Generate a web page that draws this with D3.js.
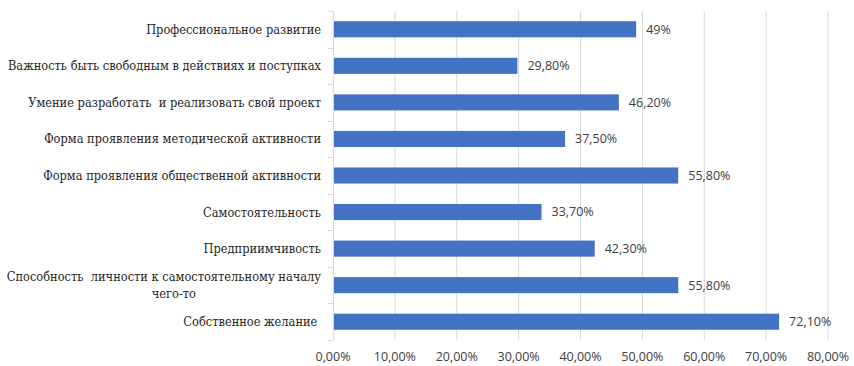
<!DOCTYPE html>
<html>
<head>
<meta charset="utf-8">
<script src="https://cdn.jsdelivr.net/npm/d3@7"></script>
<style>
  html, body { margin: 0; padding: 0; background: #fff; }
  svg { display: block; }
  .cat { font-family: "DejaVu Serif", serif; font-stretch: condensed; font-size: 12.7px; fill: #262626; }
  .num { font-family: "Open Sans", sans-serif; font-size: 12.5px; fill: #404040; }
</style>
</head>
<body>
<div id="chart"></div>
<script>
// categories top -> bottom, as drawn
const categories = [
  "Профессиональное развитие",
  "Важность быть свободным в действиях и поступках",
  "Умение разработать  и реализовать свой проект",
  "Форма проявления методической активности",
  "Форма проявления общественной активности",
  "Самостоятельность",
  "Предприимчивость",
  "Способность  личности к самостоятельному началу|чего-то",
  "Собственное желание "
];
const values = [49, 29.8, 46.2, 37.5, 55.8, 33.7, 42.3, 55.8, 72.1];
const valueLabels = ["49%", "29,80%", "46,20%", "37,50%", "55,80%", "33,70%", "42,30%", "55,80%", "72,10%"];
const xTicks = [0, 10, 20, 30, 40, 50, 60, 70, 80];

const width = 854, height = 366;
const margin = { top: 11, right: 26, bottom: 26, left: 333 };

const svg = d3.select("#chart").append("svg")
  .attr("width", width)
  .attr("height", height);

const x = d3.scaleLinear().domain([0, 80]).range([margin.left, width - margin.right]);
const y = d3.scaleBand().domain(categories).range([margin.top, height - margin.bottom])
  .paddingInner(0.56).paddingOuter(0.28);

// vertical gridlines
svg.append("g")
  .selectAll("line")
  .data(xTicks.slice(1))
  .join("line")
  .attr("x1", d => x(d)).attr("x2", d => x(d))
  .attr("y1", margin.top).attr("y2", height - margin.bottom)
  .attr("stroke", "#d9d9d9")
  .attr("stroke-width", 1);

// x tick labels
svg.append("g")
  .selectAll("text")
  .data(xTicks)
  .join("text")
  .attr("class", "num")
  .attr("x", d => x(d))
  .attr("y", height - 5)
  .attr("text-anchor", "middle")
  .text(d => d.toFixed(2).replace(".", ",") + "%");

// left axis line with band ticks
const step = y.step();
const y0 = margin.top;
svg.append("line")
  .attr("x1", x(0) + 0.5).attr("x2", x(0) + 0.5)
  .attr("y1", margin.top).attr("y2", height - margin.bottom)
  .attr("stroke", "#d9d9d9");
svg.append("g")
  .selectAll("line")
  .data(d3.range(categories.length + 1))
  .join("line")
  .attr("x1", x(0) - 5).attr("x2", x(0))
  .attr("y1", i => Math.round(y0 + i * step) + 0.5)
  .attr("y2", i => Math.round(y0 + i * step) + 0.5)
  .attr("stroke", "#d9d9d9");

// bars
svg.append("g")
  .selectAll("rect")
  .data(values)
  .join("rect")
  .attr("x", x(0) + 1)
  .attr("y", (d, i) => y(categories[i]))
  .attr("width", d => x(d) - x(0) - 1)
  .attr("height", y.bandwidth())
  .attr("fill", "#4472c4");

// value labels
svg.append("g")
  .selectAll("text")
  .data(values)
  .join("text")
  .attr("class", "num")
  .attr("x", d => x(d) + 10)
  .attr("y", (d, i) => y(categories[i]) + y.bandwidth() / 2)
  .attr("dy", "0.35em")
  .text((d, i) => valueLabels[i]);

// category labels (serif, right aligned, wrapped one centred)
const labelX = x(0) - 12;
const catG = svg.append("g");

categories.forEach(c => {
  const cy = y(c) + y.bandwidth() / 2;
  const lines = c.split("|");
  if (lines.length === 1) {
    catG.append("text")
      .attr("class", "cat")
      .attr("x", labelX).attr("y", cy).attr("dy", "0.35em")
      .attr("text-anchor", "end")
      .style("white-space", "pre")
      .text(c);
  } else {
    const first = catG.append("text")
      .attr("class", "cat")
      .attr("x", labelX).attr("y", cy - 8.5).attr("dy", "0.35em")
      .attr("text-anchor", "end")
      .style("white-space", "pre")
      .text(lines[0]);
    const w = first.node().getComputedTextLength();
    catG.append("text")
      .attr("class", "cat")
      .attr("x", labelX - w / 2 + 10).attr("y", cy + 8.5).attr("dy", "0.35em")
      .attr("text-anchor", "middle")
      .text(lines[1]);
  }
});
</script>
</body>
</html>
